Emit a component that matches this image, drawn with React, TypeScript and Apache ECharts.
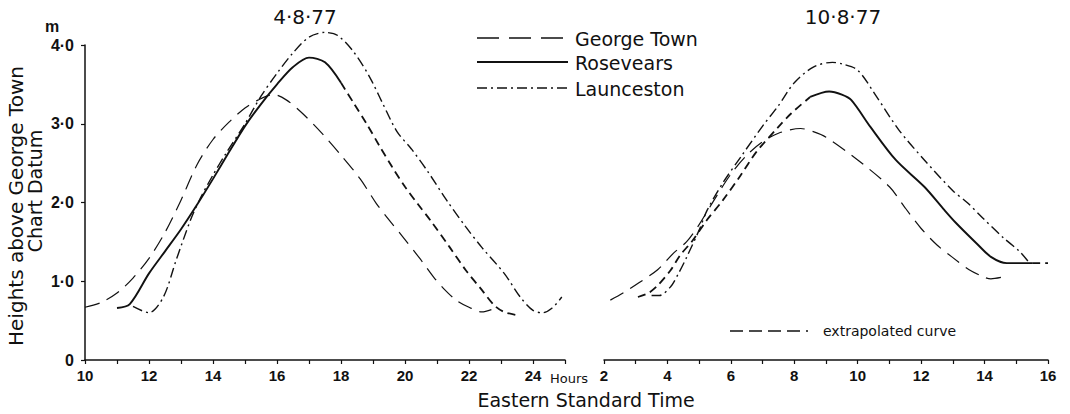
import React, { useEffect, useRef } from "react";
import * as echarts from "echarts";

// ---- Data: 4 August 1977 (hours, height m) ----
const georgeTownAug4: [number, number][] = [
  [10, 0.67], [10.5, 0.73], [11, 0.85], [11.5, 1.04], [12, 1.29], [12.5, 1.62],
  [13, 2.03], [13.5, 2.48], [14, 2.8], [14.5, 3.02], [15, 3.2], [15.4, 3.3],
  [15.9, 3.37], [16.3, 3.3], [16.8, 3.13], [17.4, 2.88], [18, 2.6], [18.6, 2.3],
  [19.1, 1.99], [19.5, 1.78], [19.9, 1.58], [20.5, 1.27], [20.9, 1.05], [21.2, 0.91],
  [21.6, 0.76], [22, 0.67], [22.4, 0.61], [22.7, 0.64],
];
const rosevearsAug4: [number, number][] = [
  [11, 0.66], [11.4, 0.71], [12, 1.1], [12.5, 1.38], [13, 1.66], [13.5, 1.97],
  [14, 2.3], [14.5, 2.64], [15, 2.97], [15.5, 3.25], [16, 3.5],
  [16.5, 3.72], [17, 3.84], [17.5, 3.78], [18, 3.52],
];
const rosevearsAug4Extrapolated: [number, number][] = [
  [18, 3.52], [18.4, 3.26], [18.8, 3.0], [19.2, 2.72], [19.6, 2.45], [20, 2.2],
  [20.4, 1.98], [20.8, 1.77], [21.4, 1.43], [21.9, 1.14], [22.4, 0.89],
  [22.8, 0.69], [23.1, 0.61], [23.5, 0.57],
];
const launcestonAug4: [number, number][] = [
  [11.5, 0.68], [12, 0.6], [12.45, 0.8], [12.85, 1.27], [13.3, 1.78], [13.6, 2.05],
  [14, 2.35], [14.4, 2.62], [15, 3.0], [15.5, 3.35], [16, 3.64], [16.5, 3.9],
  [17, 4.1], [17.5, 4.16], [17.9, 4.12], [18.4, 3.91], [18.9, 3.59], [19.3, 3.26],
  [19.75, 2.9], [20.2, 2.68], [20.7, 2.4], [21.3, 2.03], [21.9, 1.69], [22.4, 1.43],
  [23.1, 1.1], [23.6, 0.8], [24, 0.63], [24.3, 0.6], [24.6, 0.66], [24.9, 0.8],
];

// ---- Data: 10 August 1977 ----
const georgeTownAug10: [number, number][] = [
  [2.2, 0.76], [2.6, 0.85], [3.1, 0.98], [3.7, 1.15], [4.2, 1.36], [4.6, 1.5],
  [5.0, 1.72], [5.5, 2.05], [6.0, 2.36], [6.5, 2.6], [7.0, 2.77], [7.5, 2.88],
  [8.2, 2.94], [8.6, 2.9], [9.0, 2.83], [10.0, 2.54], [11.0, 2.2], [11.5, 1.93],
  [12.0, 1.67], [12.5, 1.46], [13.0, 1.3], [13.5, 1.15], [14.0, 1.05], [14.2, 1.03],
  [14.65, 1.06],
];
const rosevearsAug10Extrapolated: [number, number][] = [
  [3.07, 0.8], [3.4, 0.85], [3.7, 0.95], [4.1, 1.14], [4.4, 1.33], [4.8, 1.52],
  [5.25, 1.78], [5.75, 2.03], [6.3, 2.34], [6.8, 2.64], [7.5, 2.96], [7.9, 3.13],
  [8.5, 3.34],
];
const rosevearsAug10: [number, number][] = [
  [8.5, 3.34], [9.1, 3.41], [9.5, 3.37], [9.8, 3.3], [10.4, 2.96], [11.2, 2.54],
  [12.1, 2.2], [12.7, 1.92], [13.1, 1.74], [13.75, 1.48], [14.2, 1.31],
  [14.7, 1.23], [15.5, 1.23],
];
const rosevearsAug10Tail: [number, number][] = [[15.5, 1.23], [16.0, 1.23]];
const launcestonAug10: [number, number][] = [
  [3.5, 0.82], [3.75, 0.82], [4.1, 0.93], [4.35, 1.1], [4.6, 1.3], [5.0, 1.65],
  [5.25, 1.9], [5.75, 2.25], [6.35, 2.6], [7.0, 2.97], [7.5, 3.23], [8.0, 3.52],
  [8.6, 3.72], [9.2, 3.78], [9.5, 3.76], [10.0, 3.68], [10.6, 3.34], [11.3, 2.92],
  [12.1, 2.54], [13.0, 2.15], [13.45, 2.0], [13.95, 1.8], [14.6, 1.55], [15.1, 1.38],
  [15.4, 1.24],
];

const titles = ["4·8·77", "10·8·77"];
const legendNames = ["George Town", "Rosevears", "Launceston"];
const extrapolatedLabel = "extrapolated curve";
const yAxisTitle = ["Heights above George Town", "Chart Datum"];
const xAxisTitle = "Eastern Standard Time";
const unitLabel = "m";
const hoursLabel = "Hours";

const INK = "#111";
const GT_DASH = [15, 8];
const LA_DASH = [10, 4, 2, 4];
const EX_DASH = [8, 5];

export default function App() {
  const ref = useRef<HTMLDivElement>(null);
  useEffect(() => {
    if (!ref.current) return;
    const chart = echarts.init(ref.current, undefined, { renderer: "svg" });
    const tickFont = { color: INK, fontFamily: "Liberation Sans", fontWeight: "bold" as const, fontSize: 15 };
    const xAxisBase = (min: number, max: number, gridIndex: number) => ({
      type: "value" as const,
      gridIndex,
      min,
      max,
      interval: 1,
      axisLine: { show: true, onZero: false, lineStyle: { color: INK, width: 1.5 } },
      axisTick: { show: true, inside: false, length: 4, lineStyle: { color: INK, width: 1.2 } },
      splitLine: { show: false },
      axisLabel: {
        ...tickFont,
        margin: 8,
        showMinLabel: true,
        showMaxLabel: true,
        formatter: (v: number) => (v % 2 === 0 && v <= 24 ? String(v) : ""),
      },
    });
    const line = (data: [number, number][], idx: number, dash: any, width: number) => ({
      type: "line" as const,
      xAxisIndex: idx,
      yAxisIndex: idx,
      data,
      showSymbol: false,
      symbol: "none",
      smooth: 0.3,
      clip: false,
      silent: true,
      lineStyle: { color: INK, width, type: dash },
    });

    const texts: any[] = [
      { type: "text", x: 305, y: 17, style: { text: titles[0], font: "20px 'DejaVu Sans'", fill: INK, align: "center", verticalAlign: "middle" } },
      { type: "text", x: 843, y: 17, style: { text: titles[1], font: "20px 'DejaVu Sans'", fill: INK, align: "center", verticalAlign: "middle" } },
      { type: "text", x: 52, y: 26, style: { text: unitLabel, font: "bold 16px 'Liberation Sans'", fill: INK, align: "center", verticalAlign: "middle" } },
      { type: "text", x: 16, y: 206, rotation: Math.PI / 2, style: { text: yAxisTitle[0], font: "20px 'DejaVu Sans'", fill: INK, align: "center", verticalAlign: "middle" } },
      { type: "text", x: 35, y: 191, rotation: Math.PI / 2, style: { text: yAxisTitle[1], font: "19px 'DejaVu Sans'", fill: INK, align: "center", verticalAlign: "middle" } },
      { type: "text", x: 586, y: 400, style: { text: xAxisTitle, font: "19px 'DejaVu Sans'", fill: INK, align: "center", verticalAlign: "middle" } },
      { type: "text", x: 550, y: 378, style: { text: hoursLabel, font: "13px 'DejaVu Sans'", fill: INK, align: "left", verticalAlign: "middle" } },
      // legend
      { type: "line", shape: { x1: 477, y1: 38, x2: 568, y2: 38 }, style: { stroke: INK, lineWidth: 1.3, lineDash: [22, 10] } },
      { type: "line", shape: { x1: 477, y1: 62, x2: 568, y2: 62 }, style: { stroke: INK, lineWidth: 1.8 } },
      { type: "line", shape: { x1: 477, y1: 88, x2: 568, y2: 88 }, style: { stroke: INK, lineWidth: 1.3, lineDash: [10, 4, 2, 4] } },
      { type: "text", x: 575, y: 39, style: { text: legendNames[0], font: "19px 'DejaVu Sans'", fill: INK, align: "left", verticalAlign: "middle" } },
      { type: "text", x: 575, y: 63, style: { text: legendNames[1], font: "19px 'DejaVu Sans'", fill: INK, align: "left", verticalAlign: "middle" } },
      { type: "text", x: 575, y: 89, style: { text: legendNames[2], font: "19px 'DejaVu Sans'", fill: INK, align: "left", verticalAlign: "middle" } },
      { type: "line", shape: { x1: 730, y1: 331, x2: 808, y2: 331 }, style: { stroke: INK, lineWidth: 1.6, lineDash: [13, 6] } },
      { type: "text", x: 823, y: 331, style: { text: extrapolatedLabel, font: "14px 'DejaVu Sans'", fill: INK, align: "left", verticalAlign: "middle" } },
    ];

    chart.setOption({
      animation: false,
      backgroundColor: "#fff",
      grid: [
        { left: 85, top: 45, width: 480, height: 315, outerBoundsMode: "none" },
        { left: 604, top: 45, width: 444, height: 315, outerBoundsMode: "none" },
      ],
      xAxis: [xAxisBase(10, 25, 0), xAxisBase(2, 16, 1)],
      yAxis: [
        {
          type: "value",
          gridIndex: 0,
          min: 0,
          max: 4,
          interval: 1,
          axisLine: { show: true, lineStyle: { color: INK, width: 1.5 } },
          axisTick: { show: true, inside: false, length: 4, lineStyle: { color: INK, width: 1.2 } },
          splitLine: { show: false },
          axisLabel: {
            ...tickFont,
            fontSize: 16,
            margin: 11,
            formatter: (v: number) => (v === 0 ? "0" : v.toFixed(1).replace(".", "·")),
          },
        },
        { type: "value", gridIndex: 1, min: 0, max: 4, interval: 1, show: false },
      ],
      graphic: texts,
      series: [
        line(georgeTownAug4, 0, GT_DASH, 1.2),
        line(rosevearsAug4, 0, "solid", 1.9),
        line(rosevearsAug4Extrapolated, 0, EX_DASH, 1.8),
        line(launcestonAug4, 0, LA_DASH, 1.4),
        line(georgeTownAug10, 1, GT_DASH, 1.2),
        line(rosevearsAug10Extrapolated, 1, EX_DASH, 1.8),
        line(rosevearsAug10, 1, "solid", 1.9),
        line(rosevearsAug10Tail, 1, EX_DASH, 1.6),
        line(launcestonAug10, 1, LA_DASH, 1.4),
      ],
    });
    return () => chart.dispose();
  }, []);
  return (
    <div
      ref={ref}
      style={{ position: "fixed", left: 0, top: 0, width: 1070, height: 414, background: "#fff" }}
    />
  );
}
